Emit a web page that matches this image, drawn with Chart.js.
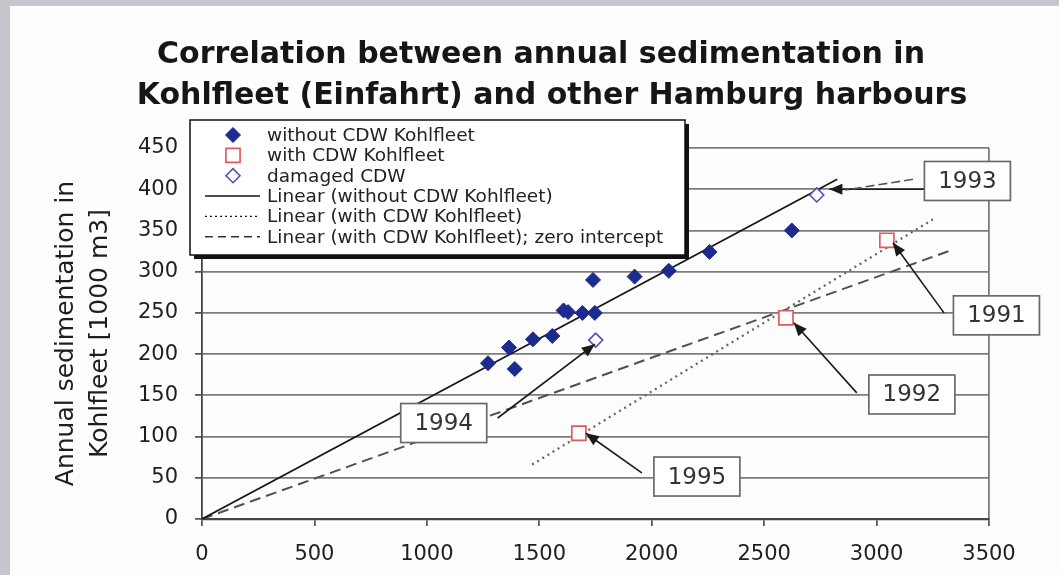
<!DOCTYPE html>
<html>
<head>
<meta charset="utf-8">
<script src="https://cdn.jsdelivr.net/npm/chart.js@4.4.1/dist/chart.umd.min.js"></script>
<style>
  html, body { margin: 0; padding: 0; background: #c6c7cc; }
  canvas { display: block; }
</style>
</head>
<body>
<canvas id="chart" width="1059" height="575"></canvas>
<script>
// ---- chart text ----
const titleLines = ['Correlation between annual sedimentation in', 'Kohlfleet (Einfahrt) and other Hamburg harbours'];
const yAxisTitle = ['Annual sedimentation in', 'Kohlfleet [1000 m3]'];
const xTickLabels = ['0', '500', '1000', '1500', '2000', '2500', '3000', '3500'];
const yTickLabels = ['0', '50', '100', '150', '200', '250', '300', '350', '400', '450'];

// ---- series: sedimentation in other harbours (x) vs. Kohlfleet (y) ----
const withoutCdwX = [1272, 1365, 1391, 1472, 1558, 1608, 1628, 1692, 1747, 1739, 1924, 2076, 2257, 2623];
const withoutCdwY = [189, 208, 182, 218, 222, 253, 251, 250, 250, 290, 294, 301, 324, 350];
const withCdwX = [1676, 2597, 3046];
const withCdwY = [104, 244, 338];
const damagedX = [1751, 2734];
const damagedY = [217, 393];

// ---- trend lines (end points) ----
const trendWithoutX = [0, 2825];
const trendWithoutY = [0, 412];
const trendWithX = [1468, 3260];
const trendWithY = [66, 365];
const trendZeroX = [0, 3342];
const trendZeroY = [0, 327];

// ---- year call-outs ----
const calloutYears = ['1993', '1991', '1992', '1995', '1994'];

const pairs = (xs, ys) => xs.map((x, i) => ({ x: x, y: ys[i] }));

// call-out placement in axis units: box centre, arrow start, arrow tip
const calloutLayout = [
  { box: [3404, 410], from: [3215, 400], to: [2790, 400], extra: { from: [3162, 412], to: [2860, 399] } },
  { box: [3533, 247], from: [3300, 250], to: [3073, 335] },
  { box: [3157, 151], from: [2912, 153], to: [2632, 238] },
  { box: [2201, 51.5], from: [1956, 56], to: [1707, 104] },
  { box: [1075, 116.4], from: [1315, 122.5], to: [1747, 212] }
];

const FONT = '"DejaVu Sans", "Liberation Sans", sans-serif';

// page frame and title
const framePlugin = {
  id: 'frame',
  beforeDraw(chart) {
    const ctx = chart.ctx;
    ctx.save();
    ctx.fillStyle = '#c6c7cc';
    ctx.fillRect(0, 0, chart.width, chart.height);
    ctx.fillStyle = '#fdfdfd';
    ctx.fillRect(10, 6, chart.width - 10, chart.height - 6);
    ctx.fillStyle = '#161616';
    ctx.font = 'bold 30px ' + FONT;
    ctx.textAlign = 'center';
    ctx.textBaseline = 'alphabetic';
    ctx.fillText(titleLines[0], 541, 63);
    ctx.fillText(titleLines[1], 552, 104);
    ctx.restore();
  }
};

function drawArrow(ctx, x0, y0, x1, y1) {
  ctx.beginPath();
  ctx.moveTo(x0, y0);
  ctx.lineTo(x1, y1);
  ctx.stroke();
  const a = Math.atan2(y1 - y0, x1 - x0);
  const len = 13, half = 5.5;
  ctx.beginPath();
  ctx.moveTo(x1, y1);
  ctx.lineTo(x1 - len * Math.cos(a) + half * Math.sin(a), y1 - len * Math.sin(a) - half * Math.cos(a));
  ctx.lineTo(x1 - len * Math.cos(a) - half * Math.sin(a), y1 - len * Math.sin(a) + half * Math.cos(a));
  ctx.closePath();
  ctx.fill();
}

// year boxes with arrows
const calloutPlugin = {
  id: 'callouts',
  afterDatasetsDraw(chart) {
    const ctx = chart.ctx;
    const xs = chart.scales.x, ys = chart.scales.y;
    const px = p => [xs.getPixelForValue(p[0]), ys.getPixelForValue(p[1])];
    ctx.save();
    ctx.strokeStyle = '#1a1a1a';
    ctx.fillStyle = '#1a1a1a';
    ctx.lineWidth = 1.6;
    calloutLayout.forEach(c => {
      const a = px(c.from), b = px(c.to);
      drawArrow(ctx, a[0], a[1], b[0], b[1]);
      if (c.extra) {
        const e0 = px(c.extra.from), e1 = px(c.extra.to);
        ctx.save();
        ctx.setLineDash([9, 4]);
        ctx.strokeStyle = '#555';
        ctx.beginPath();
        ctx.moveTo(e0[0], e0[1]);
        ctx.lineTo(e1[0], e1[1]);
        ctx.stroke();
        ctx.restore();
      }
    });
    const bw = 86, bh = 39;
    ctx.font = '23px ' + FONT;
    ctx.textAlign = 'center';
    ctx.textBaseline = 'middle';
    calloutLayout.forEach((c, i) => {
      const p = px(c.box);
      ctx.fillStyle = '#ffffff';
      ctx.fillRect(p[0] - bw / 2, p[1] - bh / 2, bw, bh);
      ctx.strokeStyle = '#6a6a6a';
      ctx.lineWidth = 1.7;
      ctx.strokeRect(p[0] - bw / 2, p[1] - bh / 2, bw, bh);
      ctx.fillStyle = '#333333';
      ctx.fillText(calloutYears[i], p[0], p[1] + 1);
    });
    ctx.restore();
  }
};

// boxed legend with drop shadow
const legendPlugin = {
  id: 'boxLegend',
  afterDraw(chart) {
    const ctx = chart.ctx;
    const L = 190, T = 120, R = 685, B = 255, sh = 4;
    const rowY0 = 135, gap = 20.35, markX = 233, lineX0 = 205, lineX1 = 260, textX = 267;
    ctx.save();
    ctx.fillStyle = '#111';
    ctx.fillRect(L + sh, T + sh, R - L, B - T);
    ctx.fillStyle = '#ffffff';
    ctx.fillRect(L, T, R - L, B - T);
    ctx.strokeStyle = '#111';
    ctx.lineWidth = 1.5;
    ctx.strokeRect(L, T, R - L, B - T);
    ctx.font = '18.5px ' + FONT;
    ctx.textAlign = 'left';
    ctx.textBaseline = 'middle';
    chart.data.datasets.forEach((ds, i) => {
      const y = rowY0 + i * gap;
      ctx.save();
      if (ds.showLine) {
        ctx.strokeStyle = ds.legendColor || ds.borderColor;
        ctx.lineWidth = 1.4;
        ctx.setLineDash(ds.legendDash || []);
        ctx.beginPath();
        ctx.moveTo(lineX0, y);
        ctx.lineTo(lineX1, y);
        ctx.stroke();
      } else {
        ctx.fillStyle = ds.backgroundColor;
        ctx.strokeStyle = ds.borderColor;
        ctx.lineWidth = ds.borderWidth;
        Chart.helpers.drawPoint(ctx, { pointStyle: ds.pointStyle, radius: ds.pointRadius, borderWidth: ds.borderWidth, rotation: 0 }, markX, y);
      }
      ctx.restore();
      ctx.fillStyle = '#222';
      ctx.fillText(ds.label, textX, y + 1);
    });
    ctx.restore();
  }
};

const chart = new Chart(document.getElementById('chart'), {
  type: 'scatter',
  data: {
    datasets: [
      {
        label: 'without CDW Kohlfleet',
        data: pairs(withoutCdwX, withoutCdwY),
        pointStyle: 'rectRot', pointRadius: 7.5,
        backgroundColor: '#1d2a8e', borderColor: '#1d2a8e', borderWidth: 1
      },
      {
        label: 'with CDW Kohlfleet',
        data: pairs(withCdwX, withCdwY),
        pointStyle: 'rect', pointRadius: 10,
        backgroundColor: '#ffffff', borderColor: '#e25a5a', borderWidth: 1.7
      },
      {
        label: 'damaged CDW',
        data: pairs(damagedX, damagedY),
        pointStyle: 'rectRot', pointRadius: 7,
        backgroundColor: '#ffffff', borderColor: '#4f4fb8', borderWidth: 1.6
      },
      {
        label: 'Linear (without CDW Kohlfleet)',
        data: pairs(trendWithoutX, trendWithoutY),
        showLine: true, pointRadius: 0, borderColor: '#151515', borderWidth: 1.7
      },
      {
        label: 'Linear (with CDW Kohlfleet)',
        data: pairs(trendWithX, trendWithY),
        showLine: true, pointRadius: 0, borderColor: '#666666', borderWidth: 2.3,
        borderDash: [2, 4], legendColor: '#151515', legendDash: [2, 3]
      },
      {
        label: 'Linear (with CDW Kohlfleet); zero intercept',
        data: pairs(trendZeroX, trendZeroY),
        showLine: true, pointRadius: 0, borderColor: '#505050', borderWidth: 2,
        borderDash: [11, 6], legendColor: '#333', legendDash: [8, 5]
      }
    ]
  },
  options: {
    responsive: false,
    animation: false,
    devicePixelRatio: 1,
    layout: { padding: { left: 0, right: 70, top: 148, bottom: 0 } },
    plugins: { legend: { display: false }, tooltip: { enabled: false }, title: { display: false } },
    scales: {
      x: {
        type: 'linear', min: 0, max: 3500,
        afterFit: s => { s.height = 56; },
        ticks: {
          stepSize: 500, padding: 16, color: '#1e1e1e',
          font: { family: FONT, size: 21 },
          callback: (v, i) => xTickLabels[i]
        },
        grid: {
          color: ctx => (ctx.tick && ctx.tick.value === 3500) ? '#7c7c7c' : 'rgba(0,0,0,0)',
          lineWidth: 1.8, tickLength: 7, tickColor: '#505050', tickWidth: 1.7
        },
        border: { color: '#454545', width: 2.2 }
      },
      y: {
        type: 'linear', min: 0, max: 450,
        afterFit: s => { s.width = 202; },
        ticks: {
          stepSize: 50, padding: 17, color: '#1e1e1e',
          font: { family: FONT, size: 21 },
          callback: (v, i) => yTickLabels[i]
        },
        grid: { color: '#7c7c7c', lineWidth: 1.8, tickLength: 7, tickColor: '#505050', tickWidth: 1.7 },
        border: { color: '#454545', width: 1.8 },
        title: {
          display: true, text: yAxisTitle, color: '#1e1e1e',
          font: { family: FONT, size: 25, lineHeight: 1.36 },
          padding: { top: 49, bottom: 0 }
        }
      }
    }
  },
  plugins: [framePlugin, calloutPlugin, legendPlugin]
});
</script>
</body>
</html>
